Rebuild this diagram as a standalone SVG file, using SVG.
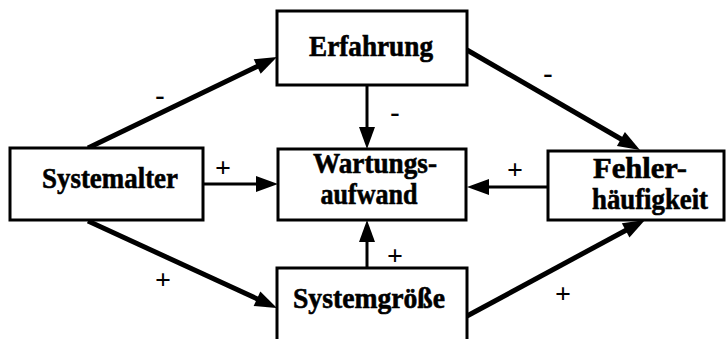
<svg xmlns="http://www.w3.org/2000/svg" width="727" height="339" viewBox="0 0 727 339">
<style>
.box{fill:#fff;stroke:#000;stroke-width:3}
.lbl{font-family:'Liberation Serif','DejaVu Serif',serif;font-weight:700;font-size:30px;fill:#000;stroke:#000;stroke-width:0.6;text-anchor:middle}
.sign{font-family:'Liberation Serif','DejaVu Serif',serif;font-weight:700;font-size:28px;fill:#000;text-anchor:middle}
.c{stroke:#000;fill:none}
.d{stroke-width:5}
.s{stroke-width:3}
</style>
<defs>
<marker id="ah" markerUnits="userSpaceOnUse" markerWidth="22" markerHeight="16" refX="12" refY="8" orient="auto" overflow="visible">
<path d="M0,0 L22,8 L0,16 Z" fill="#000"/>
</marker>
</defs>
<rect width="727" height="339" fill="#fff"/>
<g id="connectors">
<line class="c d" x1="88" y1="148" x2="268" y2="61.3" marker-end="url(#ah)"/>
<line class="c d" x1="467" y1="50" x2="631.3" y2="145" marker-end="url(#ah)"/>
<line class="c d" x1="88" y1="221" x2="267.9" y2="303.8" marker-end="url(#ah)"/>
<line class="c d" x1="467" y1="316" x2="636.2" y2="224.7" marker-end="url(#ah)"/>
<line class="c s" x1="203" y1="184" x2="268" y2="184" marker-end="url(#ah)"/>
<line class="c s" x1="548" y1="187" x2="477" y2="187" marker-end="url(#ah)"/>
<line class="c s" x1="367" y1="85" x2="367" y2="139" marker-end="url(#ah)"/>
<line class="c s" x1="367" y1="268" x2="367" y2="230" marker-end="url(#ah)"/>
<text class="sign" x="160" y="104">-</text>
<text class="sign" x="548" y="82">-</text>
<text class="sign" x="395" y="121">-</text>
<text class="sign" x="223" y="177">+</text>
<text class="sign" x="515" y="179">+</text>
<text class="sign" x="395" y="265">+</text>
<text class="sign" x="163" y="289">+</text>
<text class="sign" x="563" y="303">+</text>
</g>
<g id="erfahrung">
<rect class="box" x="277" y="11" width="190" height="74"/>
<text class="lbl" x="371" y="56" textLength="124" lengthAdjust="spacingAndGlyphs">Erfahrung</text>
</g>
<g id="systemalter">
<rect class="box" x="10" y="148" width="193" height="72"/>
<text class="lbl" x="110" y="188" textLength="136" lengthAdjust="spacingAndGlyphs">Systemalter</text>
</g>
<g id="wartungsaufwand">
<rect class="box" x="278" y="149" width="188" height="71"/>
<text class="lbl" x="375" y="173" textLength="124" lengthAdjust="spacingAndGlyphs">Wartungs-</text>
<text class="lbl" x="369" y="204" textLength="97" lengthAdjust="spacingAndGlyphs">aufwand</text>
</g>
<g id="fehlerhaeufigkeit">
<rect class="box" x="548" y="151" width="176" height="69"/>
<text class="lbl" x="640" y="178" textLength="94" lengthAdjust="spacingAndGlyphs">Fehler-</text>
<text class="lbl" x="650" y="209" textLength="116" lengthAdjust="spacingAndGlyphs">häufigkeit</text>
</g>
<g id="systemgroesse">
<rect class="box" x="277" y="268" width="190" height="80"/>
<text class="lbl" x="369" y="308" textLength="152" lengthAdjust="spacingAndGlyphs">Systemgröße</text>
</g>
</svg>
